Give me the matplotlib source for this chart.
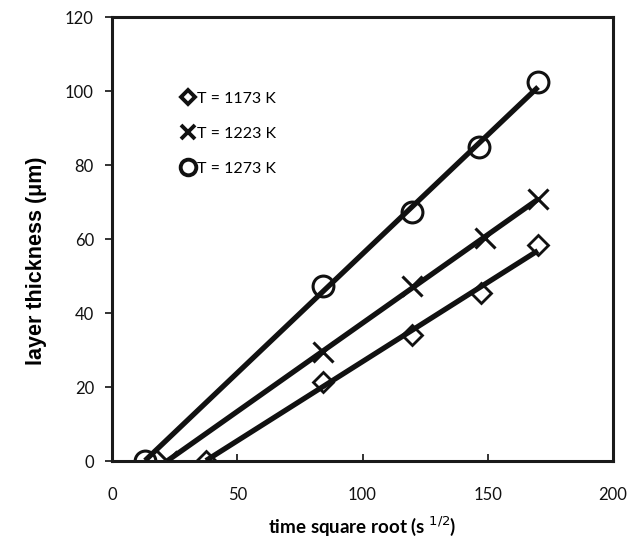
import numpy as np
import matplotlib
matplotlib.use("Agg")
import matplotlib.pyplot as plt
from matplotlib.lines import Line2D

# Data
x_1173 = [37.5, 84.2, 119.8, 147.3, 170.0]
y_1173 = [0.0, 21.4, 34.1, 45.5, 58.5]
x_1223 = [22.0, 84.2, 119.8, 148.9, 170.0]
y_1223 = [0.0, 29.5, 47.2, 60.4, 70.7]
x_1273 = [13.2, 84.2, 119.8, 146.5, 170.1]
y_1273 = [0.0, 47.2, 67.2, 84.8, 102.4]
labels = ["T = 1173 K", "T = 1223 K", "T = 1273 K"]
x_ticks = [0, 50, 100, 150, 200]
y_ticks = [0, 20, 40, 60, 80, 100, 120]

fig = plt.figure(figsize=(6.29, 5.45), dpi=100)
ax = fig.add_axes([112/629, 1-461/545, 501/629, 444/545])

tick_font = "Lato"
series = [
    (x_1173, y_1173, dict(marker="D", ms=10, mew=2.0)),
    (x_1223, y_1223, dict(marker="x", ms=14, mew=2.2)),
    (x_1273, y_1273, dict(marker="o", ms=15, mew=2.2)),
]
handles = []
for (xs, ys, mk), lab in zip(series, labels):
    xs = np.asarray(xs); ys = np.asarray(ys)
    ax.plot(xs, ys, ls="none", mfc="none", mec="#111111", zorder=2, **mk)
    p = np.polyfit(xs, ys, 1)
    xx = np.array([xs.min(), xs.max()])
    ax.plot(xx, np.polyval(p, xx), color="#111111", lw=3.8, zorder=3,
            solid_capstyle="butt")
    handles.append(Line2D([], [], ls="none", mfc="none", mec="#111111",
                          **{**mk, "ms": mk["ms"] * 0.75, "mew": 2.8}))

ax.set_xlim(0, 200)
ax.set_ylim(0, 120)
ax.set_xticks(x_ticks)
ax.set_yticks(y_ticks)
ax.tick_params(axis="x", direction="in", length=5, width=1.2, pad=19,
               labelsize=12, colors="#111111")
ax.tick_params(axis="y", direction="out", length=5, width=1.2, pad=8,
               labelsize=12, colors="#111111")
for lab in ax.get_xticklabels() + ax.get_yticklabels():
    lab.set_fontfamily(tick_font)
for s in ax.spines.values():
    s.set_linewidth(2.2)
    s.set_color("#1a1a1a")

ax.set_xlabel(r"time square root (s $^{1/2}$)", fontsize=13.5, fontweight="bold",
              family=tick_font, labelpad=8)
ax.set_ylabel("layer thickness (μm)", fontsize=15.5, fontweight="bold",
              family=["Liberation Sans Narrow", "Liberation Sans"])
ax.yaxis.set_label_coords(-0.13, 0.452)

leg = ax.legend(handles, labels, loc="center left", bbox_to_anchor=(0.113, 0.737),
                frameon=False, handlelength=0.6, handletextpad=0.3,
                labelspacing=1.3, prop={"family": tick_font, "size": 11.5})

fig.savefig("out.png", dpi=100)
